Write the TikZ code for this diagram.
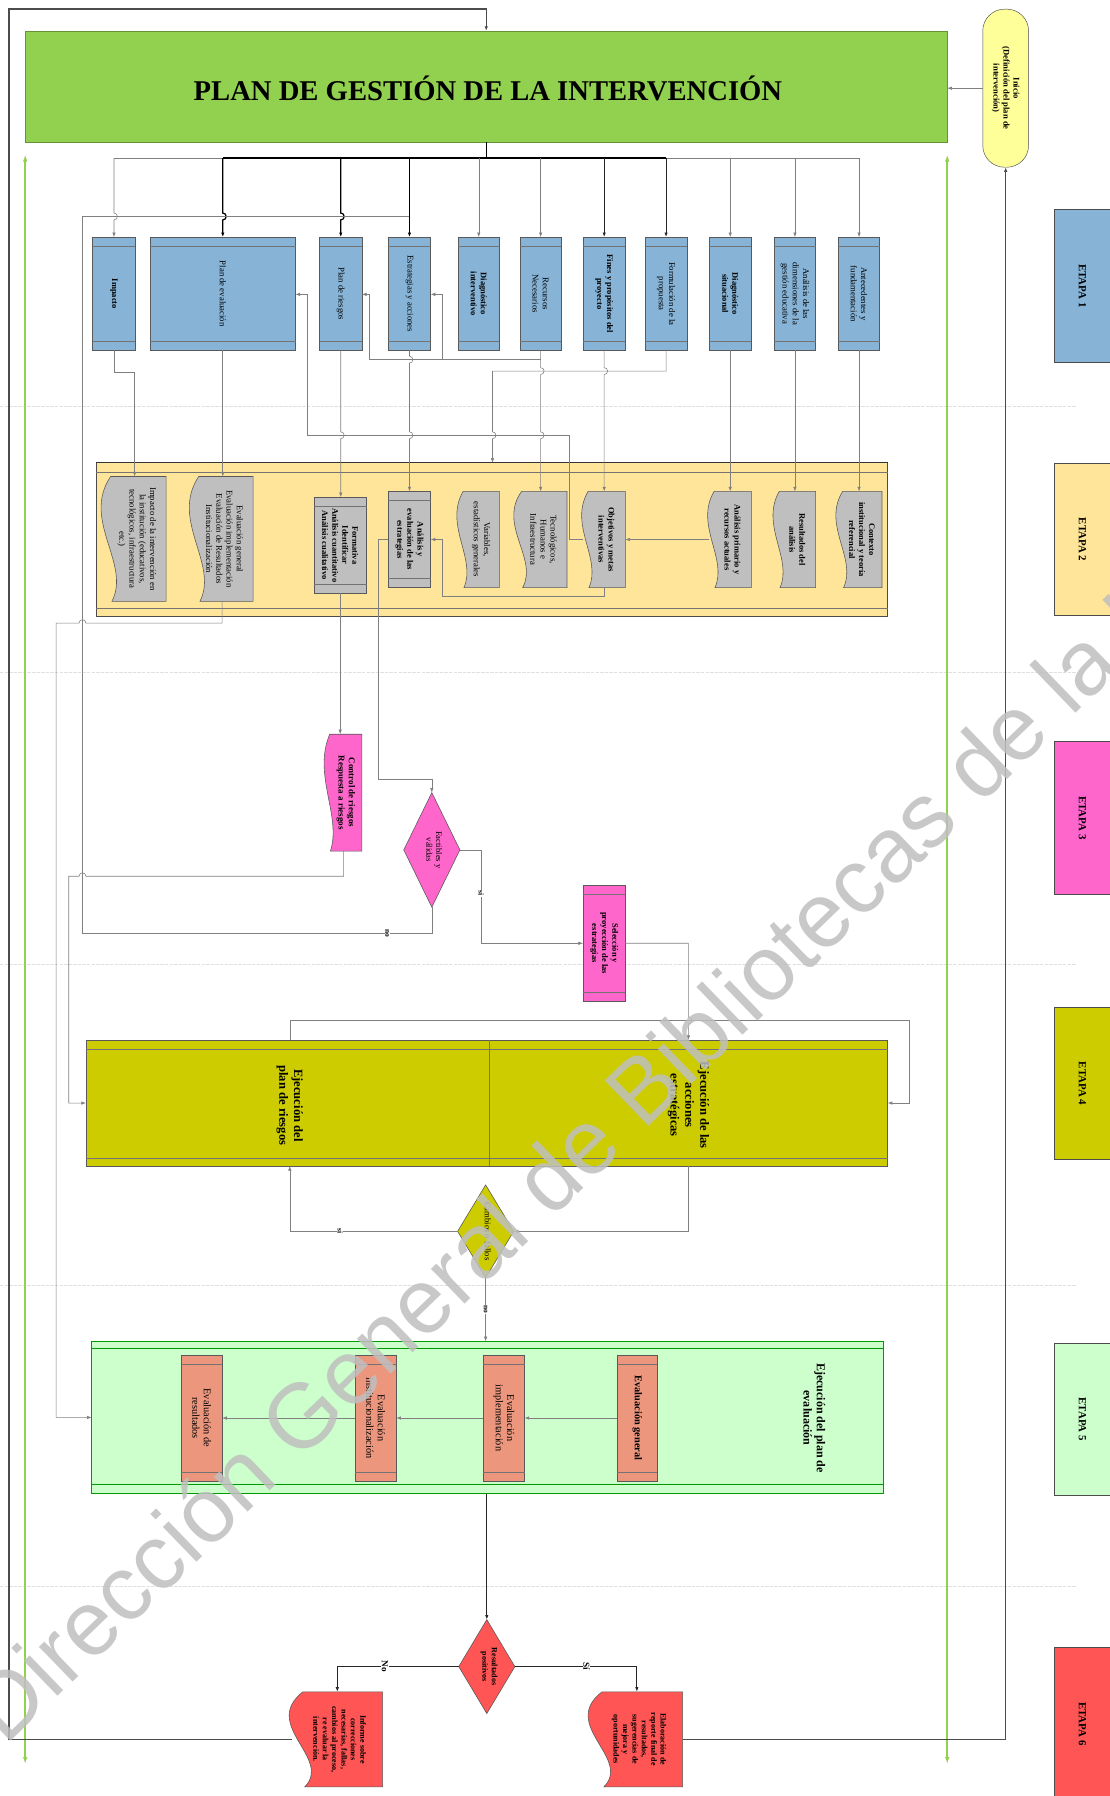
\documentclass[tikz,border=0pt]{standalone}
\usepackage{fontspec}
\setmainfont{Liberation Serif}
\newfontfamily\wmfont{Liberation Sans}
\usetikzlibrary{arrows.meta,calc,shapes.geometric}
\definecolor{gtitle}{RGB}{146,208,80}
\definecolor{blueA}{RGB}{134,179,214}
\definecolor{yelB}{RGB}{255,229,153}
\definecolor{greyB}{RGB}{191,191,191}
\definecolor{pinkC}{RGB}{255,102,204}
\definecolor{oliveD}{RGB}{204,204,0}
\definecolor{greenE}{RGB}{204,255,204}
\definecolor{salmonE}{RGB}{236,150,125}
\definecolor{redF}{RGB}{255,85,85}
\definecolor{ovalY}{RGB}{255,255,153}
\tikzset{
 shapebox/.style={draw=black!65, line width=0.5pt, inner sep=0pt, outer sep=0pt},
 anchorbox/.style={inner sep=0pt, outer sep=0pt},
 bandline/.style={draw=black!55, line width=0.4pt},
 docline/.style={draw=black!65, line width=0.5pt},
 txt/.style={rotate=-90, align=center, inner sep=0pt, font=\fontsize{7.6}{8.9}\selectfont},
 bx/.style={font=\bfseries\fontsize{7.4}{8.8}\selectfont},
 ln/.style={draw=black!50, line width=0.5pt},
 lnm/.style={draw=black!85, line width=0.8pt},
 lnk/.style={draw=black, line width=1.1pt},
 lnd/.style={draw=black!70, line width=1.2pt},
 arr/.style={-{Latex[length=4pt,width=3pt]}},
 lab/.style={rotate=-90, fill=white, inner sep=0.6pt, font=\bfseries\fontsize{6.5}{7}\selectfont},
 sepline/.style={draw=black!12, line width=0.6pt, dash pattern=on 3pt off 1pt},
 etapa/.style={draw=black!70, line width=0.5pt, inner sep=0pt, outer sep=0pt, minimum width=55pt, minimum height=133pt},
 etapat/.style={rotate=-90, font=\bfseries\fontsize{9.5}{10}\selectfont},
 gline/.style={draw=gtitle, line width=1.8pt, {Latex[length=6pt,width=4pt]}-{Latex[length=6pt,width=4pt]}},
}
\newcommand\bandbox[8]{%
  \pgfmathsetmacro\bbw{#4-#2}%
  \pgfmathsetmacro\bbh{#5-#3}%
  \node[shapebox, fill=#6, minimum width=\bbw pt, minimum height=\bbh pt] (#1) at ({(#2+#4)/2},{(#3+#5)/2}) {};%
  \draw[bandline] (#2,#3+8) -- (#4,#3+8) (#2,#5-8) -- (#4,#5-8);%
  \node[txt,#7] (#1-t) at (#1.center) {#8};%
}
\newcommand\docbox[8]{%
  \pgfmathsetmacro\bbw{#4-#2}%
  \pgfmathsetmacro\bbh{#5-#3}%
  \node[anchorbox, minimum width=\bbw pt, minimum height=\bbh pt] (#1) at ({(#2+#4)/2},{(#3+#5)/2}) {};%
  \path[docline, fill=#6] (#4,#3) -- ({#2+0.12*\bbw},#3) .. controls ({#2-0.35*\bbw},{#3+0.35*\bbh}) and ({#2+0.45*\bbw},{#3+0.7*\bbh}) .. ({#2+0.14*\bbw},#5) -- (#4,#5) -- cycle;%
  \node[txt,#7] (#1-t) at ([xshift=2pt]#1.center) {#8};%
}
\begin{document}
\begin{tikzpicture}[x=1pt,y=-1pt]
\useasboundingbox (0,0) rectangle (969,1568);
\fill[white] (0,0) rectangle (969,1568);
% separators
\foreach \yy in {355,587,842,1122,1385} \draw[sepline] (0,\yy) -- (940,\yy);
% ETAPA labels
\node[etapa, fill=blueA] (e1) at (947.5,249.5) {};
\node[etapa, fill=yelB] (e2) at (947.5,471) {};
\node[etapa, fill=pinkC] (e3) at (947.5,714) {};
\node[etapa, fill=oliveD] (e4) at (947.5,946) {};
\node[etapa, fill=greenE] (e5) at (947.5,1239) {};
\node[etapa, fill=redF] (e6) at (947.5,1505) {};
\node[etapat] (e1t) at (945,249.5) {ETAPA 1};
\node[etapat] (e2t) at (945,471) {ETAPA 2};
\node[etapat] (e3t) at (945,714) {ETAPA 3};
\node[etapat] (e4t) at (945,946) {ETAPA 4};
\node[etapat] (e5t) at (945,1239) {ETAPA 5};
\node[etapat] (e6t) at (945,1505) {ETAPA 6};
% title box
\node[draw=black!30!gtitle, fill=gtitle, line width=0.6pt, minimum width=805pt, minimum height=97pt, inner sep=0pt, outer sep=0pt] (plan) at (424.5,75.5) {};
\node[font=\bfseries\fontsize{25}{28}\selectfont] (plant) at (426,77) {PLAN DE GESTIÓN DE LA INTERVENCIÓN};
% inicio
\node[draw=black!70, fill=ovalY, rounded corners=19pt, minimum width=40pt, minimum height=138pt, inner sep=0pt, outer sep=0pt] (inicio) at (878,77) {};
\node[txt, font=\bfseries\fontsize{7.5}{8.8}\selectfont] (iniciot) at (inicio) {Inicio\\(Definición del plan de\\intervención)};
% green side arrows
\coordinate (ga1) at (22,135); \coordinate (ga2) at (22,1540);
\coordinate (ga3) at (827,135); \coordinate (ga4) at (827,1540);
\draw[gline] (ga1) -- (ga2);
\draw[gline] (ga3) -- (ga4);
% ETAPA 1 boxes
\bandbox{impacto}{81}{207}{118}{306}{blueA}{bx}{Impacto}
\bandbox{planeval}{131}{207}{258}{306}{blueA}{}{Plan de evaluación}
\bandbox{riesgos}{279}{207}{316}{306}{blueA}{}{Plan de riesgos}
\bandbox{estrat}{339}{207}{376}{306}{blueA}{}{Estrategias y acciones}
\bandbox{diagint}{400}{207}{436}{306}{blueA}{bx}{Diagnóstico\\interventivo}
\bandbox{recursos}{454}{207}{490}{306}{blueA}{}{Recursos\\Necesarios}
\bandbox{fines}{509}{207}{546}{306}{blueA}{bx}{Fines y propósitos del\\proyecto}
\bandbox{formul}{563}{207}{600}{306}{blueA}{}{Formulación de la\\propuesta}
\bandbox{diagsit}{619}{207}{656}{306}{blueA}{bx}{Diagnóstico\\situacional}
\bandbox{analdim}{676}{207}{712}{306}{blueA}{}{Análisis de las\\dimensiones de la\\gestión educativa}
\bandbox{antec}{732}{207}{768}{306}{blueA}{}{Antecedentes y\\fundamentación}
% ETAPA 2 container
\node[draw=black!70, fill=yelB, line width=0.5pt, minimum width=691pt, minimum height=134pt, inner sep=0pt, outer sep=0pt] (etapa2) at (429.5,471) {};
\draw[black!80, line width=1pt] (etapa2.north west) -- (etapa2.north east);
\draw[bandline] (84,412) -- (775,412) (84,531) -- (775,531);
\docbox{dimp}{90}{416}{145}{525}{greyB}{}{Impacto de la intervención en\\la institución (educativos,\\tecnológicos, infraestructura\\etc.)}
\docbox{deval}{167}{416}{221}{525}{greyB}{}{Evaluación general\\Evaluación implementación\\Evaluación de Resultados\\Institucionalización}
\bandbox{formativa}{274}{434}{320}{518}{greyB}{bx}{Formativa\\Identificar\\Análisis cuantitativo\\Análisis cualitativo}
\bandbox{analev}{339}{429}{376}{513}{greyB}{bx}{Análisis y\\evaluación de las\\estrategias}
\docbox{variab}{400}{429}{436}{513}{greyB}{}{Variables,\\estadísticos generales}
\docbox{tecno}{450}{429}{495}{513}{greyB}{}{Tecnológicos,\\Humanos e\\Infraestructura}
\docbox{objet}{509}{429}{546}{513}{greyB}{bx}{Objetivos y metas\\interventivas}
\docbox{analprim}{619}{429}{656}{513}{greyB}{bx}{Análisis primario y\\recursos actuales}
\docbox{resan}{676}{429}{712}{513}{greyB}{bx}{Resultados del\\análisis}
\docbox{contexto}{731}{429}{770}{513}{greyB}{bx}{Contexto\\institucional y teoría\\referencial}
% ETAPA 3
\docbox{control}{284}{641}{316}{743}{pinkC}{font=\bfseries\fontsize{7.8}{9}\selectfont}{Control de riesgos\\Respuesta a riesgos}
\node[diamond, draw=black!65, fill=pinkC, line width=0.5pt, minimum width=49pt, minimum height=100pt, inner sep=0pt, outer sep=0pt] (factib) at (377,742) {};
\node[txt, font=\fontsize{7.5}{8.6}\selectfont] (factibt) at (379,742) {Factibles y\\válidas};
\bandbox{selec}{509}{773}{546}{874}{pinkC}{bx}{Selección y\\proyección de las\\estrategias}
% ETAPA 4
\node[shapebox, fill=oliveD, minimum width=700pt, minimum height=110pt] (etapa4) at (425,963) {};
\draw[bandline] (75,916) -- (775,916) (75,1011) -- (775,1011);
\coordinate (c427) at (427,0);
\draw[bandline] (etapa4.north -| c427) -- (etapa4.south -| c427);
\node[txt, font=\bfseries\fontsize{11}{13}\selectfont] (e4left) at (253,965) {Ejecución del\\plan de riesgos};
\node[txt, font=\bfseries\fontsize{11}{13}\selectfont] (e4right) at (601,965) {Ejecución de las\\acciones\\estratégicas};
\node[diamond, draw=black!65, fill=oliveD, line width=0.5pt, minimum width=49pt, minimum height=81pt, inner sep=0pt, outer sep=0pt] (cambios) at (424,1075) {};
\node[txt, font=\fontsize{7.5}{8.6}\selectfont] (cambiost) at (426,1075) {Cambios o fallos};
% ETAPA 5
\node[draw=black!40!green, fill=greenE, line width=0.5pt, minimum width=691pt, minimum height=133pt, inner sep=0pt, outer sep=0pt] (etapa5) at (425.5,1237.5) {};
\draw[draw=black!40!green, line width=0.4pt] (80,1177) -- (771,1177) (80,1296) -- (771,1296);
\node[txt, font=\bfseries\fontsize{10.5}{11.5}\selectfont] (e5title) at (711,1238) {Ejecución del plan de\\evaluación};
\bandbox{egen}{539}{1183}{574}{1293}{salmonE}{font=\bfseries\fontsize{9}{10}\selectfont}{Evaluación general}
\bandbox{eimp}{422}{1183}{458}{1293}{salmonE}{font=\fontsize{9}{10}\selectfont}{Evaluación\\implementación}
\bandbox{einst}{310}{1183}{346}{1293}{salmonE}{font=\fontsize{9}{10}\selectfont}{Evaluación\\institucionalización}
\bandbox{eres}{158}{1183}{194}{1293}{salmonE}{font=\fontsize{9}{10}\selectfont}{Evaluación de\\resultados}
% ETAPA 6
\node[diamond, draw=black!65, fill=redF, line width=0.5pt, minimum width=49pt, minimum height=82pt, inner sep=0pt, outer sep=0pt] (resdiam) at (425,1455) {};
\node[txt, font=\bfseries\fontsize{7}{8.2}\selectfont] (resdiamt) at (427,1455) {Resultados\\positivos};
\docbox{informe}{255}{1477}{334}{1560}{redF}{font=\bfseries\fontsize{7}{8.2}\selectfont}{Informe sobre\\correcciones\\necesarias, fallas,\\cambios al proceso,\\re evaluar la\\intervención.}
\docbox{elabor}{516}{1477}{596}{1560}{redF}{font=\bfseries\fontsize{7}{8.2}\selectfont}{Elaboración de\\reporte final de\\resultados,\\sugerencias de\\mejora y\\oportunidades}
% ---------- connectors ----------
\coordinate (top) at (8,8);
\draw[lnd,arr] (informe.west) -| (top) -| (plan.north);
\draw[lnd,arr] (elabor.east) -| (inicio.south);
\draw[ln,arr] (inicio.west) -- (plan.east |- inicio.west);
\coordinate (bus) at (0,138);
\draw[lnk] (plan.south) -- (plan.south |- bus);
\draw[ln] (impacto.north |- bus) -- (antec.north |- bus);
\draw[lnk] (planeval.north |- bus) -- (formul.north |- bus);
\draw[ln,arr] (impacto.north |- bus) -- (99.5,186) arc[start angle=90,end angle=-90,radius=3pt] -- (impacto.north);
\draw[lnk,arr] (planeval.north |- bus) -- (194.5,186) arc[start angle=90,end angle=-90,radius=3pt] -- (planeval.north);
\draw[lnk,arr] (riesgos.north |- bus) -- (297.5,186) arc[start angle=90,end angle=-90,radius=3pt] -- (riesgos.north);
\draw[lnk,arr] (estrat.north |- bus) -- (estrat.north);
\draw[ln,arr] (diagint.north |- bus) -- (diagint.north);
\draw[ln,arr] (recursos.north |- bus) -- (recursos.north);
\draw[lnm,arr] (fines.north |- bus) -- (fines.north);
\draw[lnm,arr] (formul.north |- bus) -- (formul.north);
\draw[ln,arr] (diagsit.north |- bus) -- (diagsit.north);
\draw[ln,arr] (analdim.north |- bus) -- (analdim.north);
\draw[ln,arr] (antec.north |- bus) -- (antec.north);
% etapa1 -> etapa2
\draw[ln,arr] (impacto.south) -- (99.5,325) -| (dimp.north);
\draw[ln,arr] (planeval.south) -- (planeval.south |- deval.north);
\draw[ln,arr] (riesgos.south) -- (297.5,377) arc[start angle=90,end angle=-90,radius=3pt] -- (riesgos.south |- formativa.north);
\draw[ln,arr] (estrat.south) -- (357.5,311) arc[start angle=90,end angle=-90,radius=3pt] -- (357.5,377) arc[start angle=90,end angle=-90,radius=3pt] -- (estrat.south |- analev.north);
\draw[ln,arr] (recursos.south) -- (472,321) arc[start angle=90,end angle=-90,radius=3pt] -- (472,377) arc[start angle=90,end angle=-90,radius=3pt] -- (recursos.south |- tecno.north);
\draw[ln,arr] (fines.south) -- (527.5,321) arc[start angle=90,end angle=-90,radius=3pt] -- (fines.south |- objet.north);
\coordinate (c430) at (430,0);
\draw[ln,arr] (formul.south) -- (581.5,324) -- (430,324) -- (430,377) arc[start angle=90,end angle=-90,radius=3pt] -- (etapa2.north -| c430);
\draw[ln,arr] (diagsit.south) -- (diagsit.south |- analprim.north);
\draw[ln,arr] (analdim.south) -- (analdim.south |- resan.north);
\draw[ln,arr] (antec.south) -- (antec.south |- contexto.north);
% recursos -> riesgos, estrategias
\coordinate (lv314) at (0,314);
\coordinate (lv257) at (0,257);
\draw[ln,arr] (recursos.south |- lv314) -- (322,314) -- (322,257) -- (riesgos.east |- lv257);
\draw[ln,arr] (386,314) -- (386,257) -- (estrat.east |- lv257);
% objetivos -> plan de evaluacion
\draw[ln,arr] (objet.west) -- (497,471) -- (497,380) -- (268,380) -- (268,257) -- (planeval.east |- lv257);
\draw[ln,arr] (analprim.west) -- (objet.east |- analprim.west);
\draw[ln,arr] (objet.south) -- (527.5,521) -- (386,521) -- (386,471) -- (analev.east |- 0,471);
\draw[ln,arr] (analev.west) -- (330,471) -- (330,680) -- (377,680) -- (factib.north);
% etapa 2 -> 3,4,5
\draw[ln,arr] (formativa.south) -- (formativa.south |- control.north);
\draw[ln,arr] (control.south) -- (300,765) -- (75,765) arc[start angle=0,end angle=180,radius=3pt] -- (60,765) |- (etapa4.west);
\draw[ln,arr] (deval.south) -- (194,544) -- (75,544) arc[start angle=0,end angle=180,radius=3pt] -- (49,544) |- (etapa5.west);
\coordinate (nolev) at (0,189);
\draw[ln] (factib.south) -- (377,815) -| (72,189) -- (estrat.north |- nolev);
\node[lab] (nolab) at (338,815) {no};
\draw[ln,arr] (factib.east) -- (420,742) |- (selec.west);
\node[lab] (silab) at (420,780) {si};
\coordinate (c601) at (601,0);
\coordinate (c253) at (253,0);
\draw[ln,arr] (selec.east) -- (601,823.5) -- (601,888) arc[start angle=90,end angle=-90,radius=3pt] -- (etapa4.north -| c601);
\draw[ln,arr] (etapa4.north -| c253) -- (253,891) -- (794,891) |- (etapa4.east);
\draw[ln,arr] (etapa4.south -| c601) |- (cambios.east);
\draw[ln,arr] (cambios.west) -| (etapa4.south -| c253);
\node[lab] (silab2) at (297,1075) {si};
\draw[ln,arr] (cambios.south) -- (cambios.south |- etapa5.north);
\node[lab] (nolab2) at (424,1143) {no};
\draw[ln,arr] (egen.west) -- (eimp.east |- egen.west);
\draw[ln,arr] (eimp.west) -- (einst.east |- eimp.west);
\draw[ln,arr] (einst.west) -- (eres.east |- einst.west);
\draw[lnm,arr] (etapa5.south -| resdiam) -- (resdiam.north);
\draw[lnm,arr] (resdiam.west) -| (informe.north);
\draw[lnm,arr] (resdiam.east) -| (elabor.north);
\node[lab, font=\bfseries\fontsize{8}{9}\selectfont] (nolab3) at (336,1455) {No};
\node[lab, font=\bfseries\fontsize{8}{9}\selectfont] (silab3) at (512,1455) {Sí};
% watermark
\node[anchor=base west, rotate=44, text=black!25, opacity=0.85, font=\wmfont\fontsize{80}{90}\selectfont, inner sep=0pt] (wmark) at (5,1525) {Dirección General de Bibliotecas de la UAQ};
\end{tikzpicture}
\end{document}
